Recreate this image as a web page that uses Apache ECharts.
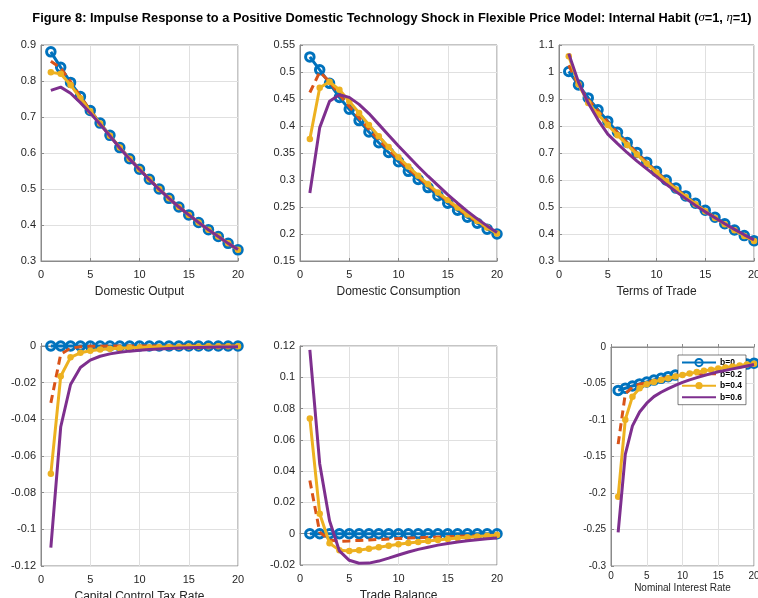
<!DOCTYPE html>
<html>
<head>
<meta charset="utf-8">
<script src="https://cdn.jsdelivr.net/npm/echarts@6/dist/echarts.min.js"></script>
<style>html,body{margin:0;padding:0;background:#fff;}#c{width:758px;height:598px;}</style>
</head>
<body>
<div id="c"></div>
<script>
const steps = [1,2,3,4,5,6,7,8,9,10,11,12,13,14,15,16,17,18,19,20];
const seriesNames = ['b=0','b=0.2','b=0.4','b=0.6'];
const panelTitles = ['Domestic Output','Domestic Consumption','Terms of Trade','Capital Control Tax Rate','Trade Balance','Nominal Interest Rate'];

// Domestic Output
const outB0 = [0.881,0.838,0.796,0.757,0.718,0.683,0.649,0.615,0.584,0.555,0.527,0.500,0.474,0.450,0.428,0.407,0.387,0.368,0.349,0.331];
const outB2 = [0.855,0.836,0.798,0.757,0.718,0.683,0.649,0.615,0.584,0.555,0.527,0.500,0.474,0.450,0.428,0.407,0.387,0.368,0.349,0.331];
const outB4 = [0.824,0.820,0.789,0.752,0.716,0.682,0.648,0.615,0.584,0.555,0.527,0.500,0.474,0.450,0.428,0.407,0.387,0.368,0.349,0.331];
const outB6 = [0.774,0.783,0.766,0.740,0.711,0.680,0.647,0.614,0.583,0.554,0.526,0.499,0.474,0.450,0.428,0.407,0.387,0.368,0.349,0.332];
// Domestic Consumption
const conB0 = [0.528,0.504,0.479,0.453,0.431,0.410,0.389,0.369,0.351,0.334,0.316,0.301,0.286,0.271,0.257,0.244,0.231,0.220,0.209,0.200];
const conB2 = [0.462,0.500,0.482,0.458,0.436,0.415,0.394,0.374,0.356,0.338,0.321,0.305,0.290,0.275,0.261,0.247,0.234,0.222,0.211,0.201];
const conB4 = [0.376,0.471,0.482,0.467,0.446,0.424,0.402,0.381,0.361,0.342,0.325,0.308,0.292,0.277,0.263,0.249,0.236,0.224,0.212,0.201];
const conB6 = [0.276,0.397,0.446,0.458,0.453,0.440,0.423,0.403,0.383,0.363,0.344,0.325,0.307,0.290,0.273,0.257,0.242,0.228,0.215,0.203];
// Terms of Trade
const totB0 = [1.002,0.952,0.904,0.860,0.818,0.777,0.739,0.702,0.666,0.632,0.600,0.570,0.541,0.514,0.488,0.462,0.438,0.415,0.394,0.375];
const totB2 = [1.025,0.950,0.898,0.856,0.815,0.775,0.737,0.700,0.664,0.630,0.598,0.568,0.539,0.512,0.486,0.461,0.437,0.415,0.394,0.375];
const totB4 = [1.058,0.955,0.885,0.843,0.804,0.766,0.730,0.694,0.660,0.627,0.595,0.565,0.537,0.510,0.484,0.459,0.436,0.414,0.393,0.374];
const totB6 = [1.068,0.962,0.885,0.823,0.770,0.735,0.701,0.670,0.641,0.613,0.584,0.557,0.531,0.506,0.482,0.460,0.438,0.417,0.397,0.378];
// Capital Control Tax Rate
const taxB0 = [0,0,0,0,0,0,0,0,0,0,0,0,0,0,0,0,0,0,0,0];
const taxB2 = [-0.031,-0.0045,-0.0012,-0.0004,-0.0002,-0.0001,0,0,0,0,0,0,0,0,0,0,0,0,0,0];
const taxB4 = [-0.0697,-0.0165,-0.0062,-0.0037,-0.0026,-0.0019,-0.0015,-0.0012,-0.0010,-0.0008,-0.0007,-0.0006,-0.0005,-0.0004,-0.0003,-0.0003,-0.0002,-0.0002,-0.0001,-0.0001];
const taxB6 = [-0.110,-0.0442,-0.021,-0.0117,-0.0077,-0.0056,-0.0043,-0.0034,-0.0028,-0.0023,-0.0019,-0.0016,-0.0013,-0.0011,-0.0009,-0.0008,-0.0007,-0.0006,-0.0005,-0.0004];
// Trade Balance
const tbB0 = [0,0,0,0,0,0,0,0,0,0,0,0,0,0,0,0,0,0,0,0];
const tbB2 = [0.034,0.001,-0.004,-0.0048,-0.0046,-0.0043,-0.004,-0.0037,-0.0034,-0.0031,-0.0028,-0.0026,-0.0023,-0.0021,-0.0019,-0.0017,-0.0015,-0.0013,-0.0011,-0.001];
const tbB4 = [0.0737,0.0127,-0.0061,-0.0105,-0.011,-0.0105,-0.0096,-0.0086,-0.0077,-0.0068,-0.006,-0.0053,-0.0046,-0.004,-0.0034,-0.0028,-0.0023,-0.0018,-0.0013,-0.0009];
const tbB6 = [0.1175,0.0448,0.0083,-0.011,-0.017,-0.0189,-0.0188,-0.0175,-0.0156,-0.0136,-0.0117,-0.0100,-0.0086,-0.0073,-0.0062,-0.0053,-0.0045,-0.0038,-0.0032,-0.0027];
// Nominal Interest Rate
const irB0 = [-0.0595,-0.0565,-0.0535,-0.0506,-0.0479,-0.0453,-0.0429,-0.0406,-0.0385,-0.0366,-0.0348,-0.0331,-0.0315,-0.0300,-0.0286,-0.0272,-0.0259,-0.0246,-0.0234,-0.0222];
const irB2 = [-0.133,-0.064,-0.055,-0.051,-0.0488,-0.0462,-0.0437,-0.0413,-0.0391,-0.0371,-0.0352,-0.0334,-0.0318,-0.0302,-0.0287,-0.0273,-0.026,-0.0247,-0.0235,-0.0223];
const irB4 = [-0.205,-0.0995,-0.068,-0.0565,-0.051,-0.0478,-0.0452,-0.0427,-0.0404,-0.0383,-0.0363,-0.0344,-0.0327,-0.0311,-0.0295,-0.0281,-0.0267,-0.0254,-0.0241,-0.0228];
const irB6 = [-0.254,-0.147,-0.108,-0.089,-0.077,-0.068,-0.062,-0.057,-0.0525,-0.0485,-0.045,-0.042,-0.039,-0.0365,-0.034,-0.032,-0.030,-0.028,-0.026,-0.024];

const yMin = [0.3, 0.15, 0.3, -0.12, -0.02, -0.3];
const yMax = [0.9, 0.55, 1.1, 0, 0.12, 0];
const yStep = [0.1, 0.05, 0.1, 0.02, 0.02, 0.05];

const panels = [
  [outB0,outB2,outB4,outB6],
  [conB0,conB2,conB4,conB6],
  [totB0,totB2,totB4,totB6],
  [taxB0,taxB2,taxB4,taxB6],
  [tbB0,tbB2,tbB4,tbB6],
  [irB0,irB2,irB4,irB6]
];

const FONT = '"Liberation Sans", Arial, Helvetica, sans-serif';
const C = ['#0072BD','#D95319','#EDB120','#7E2F8E'];
const grids = [
  {left:41, top:45, width:197, height:216},
  {left:300, top:45, width:197, height:216},
  {left:559, top:45, width:195, height:216},
  {left:41, top:346, width:197, height:220},
  {left:300, top:346, width:197, height:219},
  {left:611, top:347, width:143, height:219}
];

const chart = echarts.init(document.getElementById('c'), null, {renderer:'canvas'});
const fmt = v => String(+v.toFixed(4));

const xAxes = [], yAxes = [], series = [];
grids.forEach((g, i) => {
  g.show = true; g.borderColor = '#8a8a8a'; g.borderWidth = 1; g.backgroundColor = '#fff';
  g.containLabel = false; g.outerBoundsMode = 'none';
  const small = i === 5;
  xAxes.push({
    type:'value', gridIndex:i, min:0, max:20, interval:5,
    name: panelTitles[i], nameLocation:'middle', nameGap: small ? 17 : 25,
    nameTextStyle:{fontFamily:FONT, fontSize: small ? 10 : 12, color:'#262626'},
    axisLine:{show:true, lineStyle:{color:'#8a8a8a', width:1}},
    axisTick:{show:true, inside:true, length:3, lineStyle:{color:'#8a8a8a'}},
    axisLabel:{fontFamily:FONT, fontSize: small ? 10 : 11, color:'#262626', margin: small ? 5 : 8, formatter:fmt},
    splitLine:{show:true, lineStyle:{color:'#e0e0e0', width:1}}
  });
  yAxes.push({
    type:'value', gridIndex:i, min:yMin[i], max:yMax[i], interval:yStep[i],
    axisLine:{show:true, onZero:false, lineStyle:{color:'#8a8a8a', width:1}},
    axisTick:{show:true, inside:true, length:3, lineStyle:{color:'#8a8a8a'}},
    axisLabel:{fontFamily:FONT, fontSize: small ? 10 : 11, color:'#262626', margin:5, formatter:fmt},
    splitLine:{show:true, lineStyle:{color:'#e0e0e0', width:1}}
  });
  panels[i].forEach((vals, k) => {
    const s = {
      type:'line', name: seriesNames[k], xAxisIndex:i, yAxisIndex:i,
      data: steps.map((t, j) => [t, vals[j]]),
      clip:false, silent:true, animation:false,
      lineStyle:{color:C[k], width:3},
      itemStyle:{color:C[k]},
      z: 2 + k
    };
    if (k === 0) {
      s.symbol = 'circle'; s.symbolSize = 8.5; s.showSymbol = true;
      s.itemStyle = {color:'rgba(255,255,255,0)', borderColor:C[0], borderWidth:3};
    } else if (k === 1) {
      s.symbol = 'circle'; s.showSymbol = false; s.lineStyle.type = [8,5];
    } else if (k === 2) {
      s.symbol = 'circle'; s.symbolSize = 6.5; s.showSymbol = true;
      s.itemStyle = {color:C[2], borderWidth:0};
    } else {
      s.symbol = 'circle'; s.showSymbol = false;
    }
    series.push(s);
  });
});

chart.setOption({
  animation:false,
  backgroundColor:'#fff',
  grid: grids,
  xAxis: xAxes,
  yAxis: yAxes,
  series: series,
  legend: {
    show:true, orient:'vertical', left:678, top:355,
    data: [
      {name: seriesNames[0]},
      {name: seriesNames[1], itemStyle:{opacity:0}},
      {name: seriesNames[2]},
      {name: seriesNames[3], itemStyle:{opacity:0}}
    ],
    backgroundColor:'#fff', borderColor:'#262626', borderWidth:0.6,
    padding:[3,4,3,3], itemGap:2.5, itemWidth:34, itemHeight:9,
    selectedMode:false,
    textStyle:{fontFamily:FONT, fontSize:8.5, fontWeight:'bold', color:'#000', padding:[0,0,0,-1]}
  },
  graphic: [{
    type:'text', x:392, y:18,
    style:{
      text:'{b|Figure 8: Impulse Response to a Positive Domestic Technology Shock in Flexible Price Model: Internal Habit (}{i|σ}{b|=1, }{i|η}{b|=1)}',
      align:'center', verticalAlign:'middle',
      rich:{
        b:{fontFamily:'"Liberation Sans Narrow", "Liberation Sans", Arial, sans-serif', fontWeight:'bold', fontSize:12.8, fill:'#000'},
        i:{fontFamily:'"Liberation Serif", "DejaVu Serif", serif', fontStyle:'italic', fontSize:12.8, fill:'#000'}
      }
    }
  }]
});
</script>
</body>
</html>
